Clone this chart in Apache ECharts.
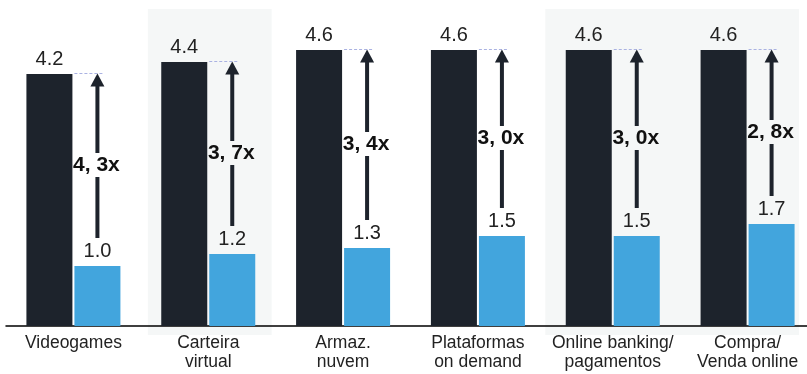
<!DOCTYPE html>
<html>
<head>
<meta charset="utf-8">
<script src="https://cdn.jsdelivr.net/npm/echarts@6/dist/echarts.min.js"></script>
<style>
  html, body { margin: 0; padding: 0; background: #ffffff; }
  #chart { width: 807px; height: 374px; }
</style>
</head>
<body>
<div id="chart"></div>
<script>
// Categories and values
const categories = [
  'Videogames',
  'Carteira\nvirtual',
  'Armaz.\nnuvem',
  'Plataformas\non demand',
  'Online banking/\npagamentos',
  'Compra/\nVenda online'
];
const valuesDark = [4.2, 4.4, 4.6, 4.6, 4.6, 4.6];
const valuesBlue = [1.0, 1.2, 1.3, 1.5, 1.5, 1.7];
const multipliers = ['4, 3x', '3, 7x', '3, 4x', '3, 0x', '3, 0x', '2, 8x'];
// Shaded category groups: [first index, last index]
const shadedGroups = [[1, 1], [4, 5]];

// Layout / style constants
const FONT = "'Liberation Sans', Arial, Helvetica, sans-serif";
const DARK = '#1d232c';
const BLUE = '#42a5dd';
const PANEL = '#f5f7f7';
const BAR_W = 46;
const BAR_GAP = 2;
const panelInsets = [[7, 4], [0, 16]];

const chart = echarts.init(document.getElementById('chart'), null, { renderer: 'canvas' });

const valueLabel = {
  show: true,
  position: 'top',
  distance: 5,
  fontFamily: FONT,
  fontSize: 20,
  color: '#222222',
  formatter: p => p.value.toFixed(1)
};

function renderPanel(params, api) {
  const idx = params.dataIndex;
  const a = api.coord([api.value(0), 0]);
  const b = api.coord([api.value(1), 0]);
  const band = api.size([1, 0])[0];
  const ins = panelInsets[idx] || [0, 0];
  const left = a[0] - band / 2 + ins[0];
  const right = b[0] + band / 2 - ins[1];
  const top = params.coordSys.y - 17;
  const bottom = a[1] + 9;
  return {
    type: 'rect',
    shape: { x: left, y: top, width: right - left, height: bottom - top },
    style: { fill: PANEL },
    z2: 0
  };
}

function renderArrow(params, api) {
  const i = api.value(0);
  const top = api.coord([i, api.value(1)]);
  const low = api.coord([i, api.value(2)]);
  const off = (BAR_W + BAR_GAP) / 2;
  const x = top[0] + off;
  const tipY = top[1] - 0.5;
  const headH = 13;
  const headHalf = 7;
  const shaftW = 4;
  const labelY = (top[1] + low[1]) / 2 - 5;
  const shaftBottom = low[1] - 28;
  const children = [
    // dashed guide at the level of the dark bar
    {
      type: 'line',
      shape: { x1: x - off + 1, y1: tipY, x2: x + headHalf, y2: tipY },
      style: { stroke: '#aab2e2', lineWidth: 1, lineDash: [3, 2] }
    },
    // arrow head
    {
      type: 'polygon',
      shape: { points: [[x, tipY], [x - headHalf, tipY + headH], [x + headHalf, tipY + headH]] },
      style: { fill: DARK }
    },
    // shaft, upper part
    {
      type: 'rect',
      shape: { x: x - shaftW / 2, y: tipY + headH - 1, width: shaftW, height: (labelY - 12) - (tipY + headH - 1) },
      style: { fill: DARK }
    },
    // shaft, lower part
    {
      type: 'rect',
      shape: { x: x - shaftW / 2, y: labelY + 12, width: shaftW, height: shaftBottom - (labelY + 12) },
      style: { fill: DARK }
    },
    // multiplier label
    {
      type: 'text',
      x: x - 1,
      y: labelY,
      style: {
        text: multipliers[params.dataIndex],
        fontFamily: FONT,
        fontSize: 21,
        fontWeight: 'bold',
        fill: '#111111',
        align: 'center',
        verticalAlign: 'middle'
      }
    }
  ];
  return { type: 'group', children };
}

const option = {
  animation: false,
  backgroundColor: '#ffffff',
  grid: { left: 6, top: 26, right: -8, bottom: 48, containLabel: false, outerBoundsMode: 'none' },
  xAxis: {
    type: 'category',
    data: categories,
    axisTick: { show: false },
    axisLine: { lineStyle: { color: '#000000', width: 1.5 } },
    axisLabel: {
      interval: 0,
      margin: 8,
      fontFamily: FONT,
      fontSize: 17.5,
      lineHeight: 19,
      color: '#222222',
      verticalAlign: 'top'
    },
    splitLine: { show: false }
  },
  yAxis: {
    type: 'value',
    min: 0,
    max: 5,
    show: false,
    splitLine: { show: false }
  },
  series: [
    {
      type: 'custom',
      name: 'panels',
      z: 0,
      silent: true,
      clip: false,
      renderItem: renderPanel,
      data: shadedGroups
    },
    {
      type: 'bar',
      name: 'dark',
      z: 2,
      barWidth: BAR_W,
      barGap: (BAR_GAP / BAR_W * 100) + '%',
      itemStyle: { color: DARK },
      label: valueLabel,
      data: valuesDark
    },
    {
      type: 'bar',
      name: 'blue',
      z: 2,
      barWidth: BAR_W,
      itemStyle: { color: BLUE },
      label: valueLabel,
      data: valuesBlue
    },
    {
      type: 'custom',
      name: 'arrows',
      z: 3,
      silent: true,
      clip: false,
      renderItem: renderArrow,
      data: categories.map((c, i) => [i, valuesDark[i], valuesBlue[i]])
    }
  ]
};

chart.setOption(option);
</script>
</body>
</html>
